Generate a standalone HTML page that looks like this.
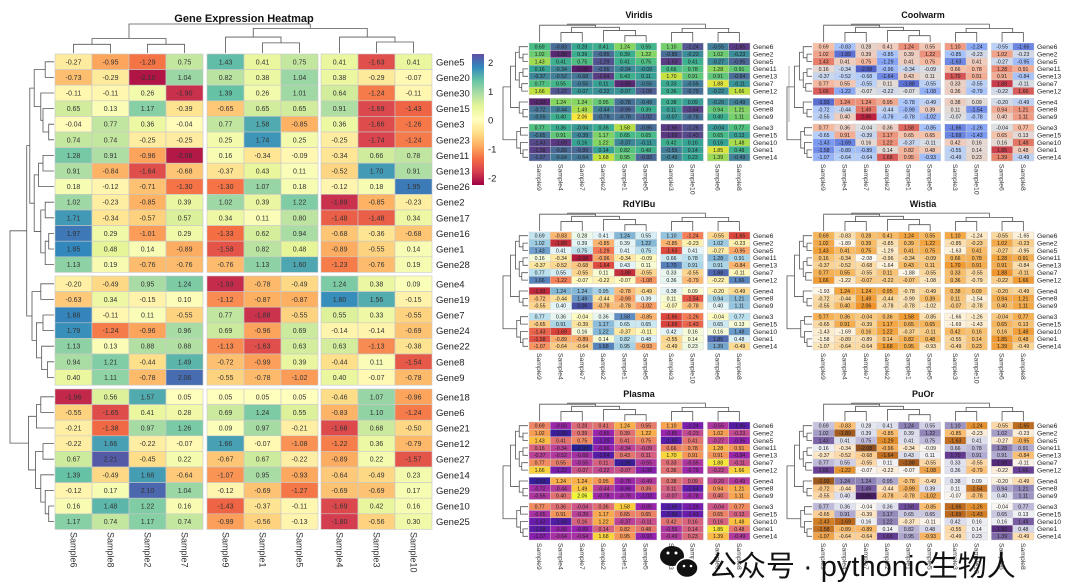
<!DOCTYPE html>
<html><head><meta charset="utf-8">
<style>
html,body{margin:0;padding:0;background:#fff;}
svg{display:block;font-family:"Liberation Sans","Noto Sans CJK SC",sans-serif;}
</style></head>
<body>
<svg id="chart" width="1080" height="586" viewBox="0 0 1080 586"></svg>
<script>
// ===== Main heatmap data =====
const mainSamples = ["Sample6","Sample8","Sample2","Sample7","Sample9","Sample1","Sample5","Sample4","Sample3","Sample10"];
const mainGenes = ["Gene5","Gene20","Gene30","Gene15","Gene3","Gene23","Gene11","Gene13","Gene26","Gene2","Gene17","Gene16","Gene1","Gene28","Gene4","Gene19","Gene7","Gene24","Gene22","Gene8","Gene9","Gene18","Gene6","Gene21","Gene12","Gene27","Gene14","Gene29","Gene10","Gene25"];
const mainValues = [
[-0.27,-0.95,-1.29,0.75,1.43,0.41,0.75,0.41,-1.63,0.41],
[-0.73,-0.29,-2.10,1.04,0.82,0.38,1.04,0.38,-0.29,-0.07],
[-0.11,-0.11,0.26,-1.90,1.39,0.26,1.01,0.64,-1.24,-0.11],
[0.65,0.13,1.17,-0.39,-0.65,0.65,0.65,0.91,-1.69,-1.43],
[-0.04,0.77,0.36,-0.04,0.77,1.58,-0.85,0.36,-1.66,-1.26],
[0.74,0.74,-0.25,-0.25,0.25,1.74,0.25,-0.25,-1.74,-1.24],
[1.28,0.91,-0.96,-2.08,0.16,-0.34,-0.09,-0.34,0.66,0.78],
[0.91,-0.84,-1.64,-0.68,-0.37,0.43,0.11,-0.52,1.70,0.91],
[0.18,-0.12,-0.71,-1.30,-1.30,1.07,0.18,-0.12,0.18,1.95],
[1.02,-0.23,-0.85,0.39,1.02,0.39,1.22,-1.89,-0.85,-0.23],
[1.71,-0.34,-0.57,0.57,0.34,0.11,0.80,-1.48,-1.48,0.34],
[1.97,0.29,-1.01,0.29,-1.33,0.62,0.94,-0.68,-0.36,-0.68],
[1.85,0.48,0.14,-0.89,-1.58,0.82,0.48,-0.89,-0.55,0.14],
[1.13,0.19,-0.76,-0.76,-0.76,1.13,1.60,-1.23,-0.76,0.19],
[-0.20,-0.49,0.95,1.24,-1.93,-0.78,-0.49,1.24,0.38,0.09],
[-0.63,0.34,-0.15,0.10,-1.12,-0.87,-0.87,1.80,1.56,-0.15],
[1.88,-0.11,0.11,-0.55,0.77,-1.88,-0.55,0.55,0.33,-0.55],
[1.79,-1.24,-0.96,0.96,0.69,-0.96,0.69,-0.14,-0.14,-0.69],
[1.13,0.13,0.88,0.88,-1.13,-1.63,0.63,0.63,-1.13,-0.38],
[0.94,1.21,-0.44,1.49,-0.72,-0.99,0.39,-0.44,0.11,-1.54],
[0.40,1.11,-0.78,2.06,-0.55,-0.78,-1.02,0.40,-0.07,-0.78],
[-1.96,0.56,1.57,0.05,0.05,0.05,0.05,-0.46,1.07,-0.96],
[-0.55,-1.65,0.41,0.28,0.69,1.24,0.55,-0.83,1.10,-1.24],
[-0.21,-1.38,0.97,1.26,0.09,0.97,-0.21,-1.68,0.68,-0.50],
[-0.22,1.66,-0.22,-0.07,1.66,-0.07,-1.08,-1.22,0.36,-0.79],
[0.67,2.21,-0.45,0.22,-0.67,0.67,-0.22,-0.89,0.22,-1.57],
[1.39,-0.49,1.68,-0.64,-1.07,0.95,-0.93,-0.64,-0.49,0.23],
[-0.12,0.17,2.10,1.04,-0.12,-0.69,-1.27,-0.69,-0.69,0.17],
[0.16,1.48,1.22,0.16,-1.43,-0.37,-0.11,-1.69,0.42,0.16],
[1.17,0.74,1.17,0.74,-0.99,-0.56,-0.13,-1.80,-0.56,0.30]
];
const colorbarTicks = [2,1,0,-1,-2];

// ===== Small heatmaps data =====
const smallSamples = ["Sample9","Sample4","Sample7","Sample2","Sample1","Sample5","Sample3","Sample10","Sample6","Sample8"];
const smallGenes = ["Gene6","Gene2","Gene5","Gene11","Gene13","Gene7","Gene12","Gene4","Gene8","Gene9","Gene3","Gene15","Gene10","Gene1","Gene14"];
const smallValues = [
[0.69,-0.83,0.28,0.41,1.24,0.55,1.10,-1.24,-0.55,-1.65],
[1.02,-1.89,0.39,-0.85,0.39,1.22,-0.85,-0.23,1.02,-0.23],
[1.43,0.41,0.75,-1.29,0.41,0.75,-1.63,0.41,-0.27,-0.95],
[0.16,-0.34,-2.08,-0.96,-0.34,-0.09,0.66,0.78,1.28,0.91],
[-0.37,-0.52,-0.68,-1.64,0.43,0.11,1.70,0.91,0.91,-0.84],
[0.77,0.55,-0.55,0.11,-1.88,-0.55,0.33,-0.55,1.88,-0.11],
[1.66,-1.22,-0.07,-0.22,-0.07,-1.08,0.36,-0.79,-0.22,1.66],
[-1.93,1.24,1.24,0.95,-0.78,-0.49,0.38,0.09,-0.20,-0.49],
[-0.72,-0.44,1.49,-0.44,-0.99,0.39,0.11,-1.54,0.94,1.21],
[-0.55,0.40,2.06,-0.78,-0.78,-1.02,-0.07,-0.78,0.40,1.11],
[0.77,0.36,-0.04,0.36,1.58,-0.85,-1.66,-1.26,-0.04,0.77],
[-0.65,0.91,-0.39,1.17,0.65,0.65,-1.69,-1.43,0.65,0.13],
[-1.43,-1.69,0.16,1.22,-0.37,-0.11,0.42,0.16,0.16,1.48],
[-1.58,-0.89,-0.89,0.14,0.82,0.48,-0.55,0.14,1.85,0.48],
[-1.07,-0.64,-0.64,1.68,0.95,-0.93,-0.49,0.23,1.39,-0.49]
];
const panelTitles = ["Viridis","Coolwarm","RdYlBu","Wistia","Plasma","PuOr"];

// ===== Colormaps =====
const cmaps = {
 Spectral:["#9e0142","#d53e4f","#f46d43","#fdae61","#fee08b","#ffffbf","#e6f598","#abdda4","#66c2a5","#3288bd","#5e4fa2"],
 Viridis:["#440154","#482878","#3e4989","#31688e","#26828e","#1f9e89","#35b779","#6ece58","#b5de2b","#fde725"],
 Coolwarm:["#3b4cc0","#6f92f3","#aac7fd","#dddcdc","#f7b89c","#e7745b","#b40426"],
 RdYlBu:["#a50026","#d73027","#f46d43","#fdae61","#fee090","#ffffbf","#e0f3f8","#abd9e9","#74add1","#4575b4","#313695"],
 Wistia:["#fffaf0","#fde7bf","#fbd08a","#f7b455","#f29a2a","#ee8610"],
 Plasma:["#0d0887","#5302a3","#8b0aa5","#b83289","#db5c68","#f48849","#febd2a","#f0f921"],
 PuOr:["#7f3b08","#b35806","#e08214","#fdb863","#fee0b6","#f7f7f7","#d8daeb","#b2abd2","#8073ac","#542788","#2d004b"]
};
function hex2rgb(h){return [parseInt(h.slice(1,3),16),parseInt(h.slice(3,5),16),parseInt(h.slice(5,7),16)];}
function cmap(name,v,lo,hi){
 const st=cmaps[name];let t=(v-lo)/(hi-lo);t=Math.max(0,Math.min(1,t));
 const f=t*(st.length-1);const i=Math.min(st.length-2,Math.floor(f));const r=f-i;
 const a=hex2rgb(st[i]),b=hex2rgb(st[i+1]);
 return "rgb("+a.map((x,k)=>Math.round(x+(b[k]-x)*r)).join(",")+")";
}

const NS="http://www.w3.org/2000/svg";
const svg=document.getElementById("chart");
function mk(tag,attrs,parent){const e=document.createElementNS(NS,tag);for(const k in attrs)e.setAttribute(k,attrs[k]);(parent||svg).appendChild(e);return e;}

// dendrogram
function dendro(node,posFn,base,span,vertical,g){
 if(typeof node==="number")return {p:posFn(node),h:0};
 const a=dendro(node[0],posFn,base,span,vertical,g),b=dendro(node[1],posFn,base,span,vertical,g);
 const h=node[2];
 const c=v=>base-v*span;
 let d;
 if(vertical){d="M"+a.p+" "+c(a.h)+"V"+c(h)+"H"+b.p+"V"+c(b.h);}
 else{d="M"+c(a.h)+" "+a.p+"H"+c(h)+"V"+b.p+"H"+c(b.h);}
 const p=mk("path",{d:d,fill:"none",stroke:"#555","stroke-width":0.8},g);
 
 
 return {p:(a.p+b.p)/2,h:h};
}

// ===== Main heatmap =====
const mainG=mk("g",{});


const mColStarts=[55,207,321],mColW=37,mRowStarts=[54,276,389],mRowH=15.6;
function mX(i){return i<4?mColStarts[0]+i*mColW:(i<7?mColStarts[1]+(i-4)*mColW:mColStarts[2]+(i-7)*mColW);}
function mY(j){return j<14?mRowStarts[0]+j*mRowH:(j<21?mRowStarts[1]+(j-14)*mRowH:mRowStarts[2]+(j-21)*mRowH);}
const lo=-2.25,hi=2.3;
mainValues.forEach((row,j)=>{row.forEach((v,i)=>{
 const r=mk("rect",{x:mX(i),y:mY(j),width:mColW,height:mRowH,fill:cmap("Spectral",v,lo,hi),stroke:"#c8c8c8","stroke-width":0.6},mainG);
 
 
 const t=mk("text",{x:mX(i)+mColW/2,y:mY(j)+mRowH/2+2.5,"text-anchor":"middle","font-size":7,fill:"#333"},mainG);
 t.textContent=v.toFixed(2);
 
 
});});
mainGenes.forEach((g,j)=>{
 const t=mk("text",{x:436,y:mY(j)+mRowH/2+3.5,"font-size":9.5,fill:"#222"},mainG);
 t.textContent=g;
 
 
});
mainSamples.forEach((s,i)=>{
 const x=mX(i)+mColW/2-3;
 const t=mk("text",{x:x,y:532,"font-size":9,fill:"#333",transform:"rotate(90 "+x+" 532)"},mainG);
 t.textContent=s;
 
 
});
const mt=mk("text",{x:244,y:22,"text-anchor":"middle","font-size":11,"font-weight":"bold",fill:"#111"},mainG);
mt.textContent="Gene Expression Heatmap";


const mainColTree=[[[0,1,0.3],[2,3,0.3],0.5],[[4,[5,6,0.35],0.55],[7,[8,9,0.38],0.55],0.85],1];
const mainRowTree=[[[[[0,1,0.2],[2,[3,[4,5,0.12],0.25],0.3],0.45],[[[6,7,0.25],8,0.35],[[9,10,0.2],[[11,12,0.12],13,0.2],0.3],0.45],0.55],[[14,15,0.3],[[16,17,0.25],[18,[19,20,0.15],0.28],0.4],0.5],0.62],[[[21,22,0.3],23,0.4],[[24,25,0.25],[26,[27,[28,29,0.12],0.2],0.3],0.42],0.58],1];
dendro(mainColTree,i=>mX(i)+mColW/2,53,29,true,mainG);
dendro(mainRowTree,j=>mY(j)+mRowH/2,54,44,false,mainG);
// colorbar
const defs=mk("defs",{});
const lg=mk("linearGradient",{id:"cbgrad",x1:0,y1:1,x2:0,y2:0},defs);
cmaps.Spectral.forEach((c,k)=>mk("stop",{offset:(k/(cmaps.Spectral.length-1)),"stop-color":c},lg));
const cbTop=54,cbBot=185;
const cb=mk("rect",{x:472,y:cbTop,width:12,height:cbBot-cbTop,fill:"url(#cbgrad)"},mainG);


colorbarTicks.forEach(v=>{
 const y=cbBot-(v-lo)/(hi-lo)*(cbBot-cbTop);
 const t=mk("text",{x:488,y:y+3.5,"font-size":9.5,fill:"#222"},mainG);
 t.textContent=v;
 
 
});

// ===== Small heatmaps =====
const panelPos=[[529,43],[813,43],[529,232],[813,232],[529,422],[813,422]];
const sColW=21.3,sRowH=7.4;
const smallColTree=[[0,[[1,2,0.45],[3,[4,5,0.3],0.55],0.7],0.8],[[6,7,0.45],[8,9,0.45],0.65],0.85];
const smallRowTree=[[[[0,[1,2,0.2],0.35],[[3,4,0.2],[5,6,0.25],0.35],0.5],[7,[8,9,0.2],0.35],0.7],[[10,11,0.3],[12,[13,14,0.2],0.3],0.45],1];
panelTitles.forEach((name,p)=>{
 const [gx,gy]=panelPos[p];
 const g=mk("g",{});
 
 
 const sX=i=>i<6?gx+i*sColW:(i<8?gx+131.8+(i-6)*sColW:gx+178.4+(i-8)*sColW);
 const sY=j=>j<7?gy+j*sRowH:(j<10?gy+55.3+(j-7)*sRowH:gy+81+(j-10)*sRowH);
 smallValues.forEach((row,j)=>{row.forEach((v,i)=>{
  const r=mk("rect",{x:sX(i),y:sY(j),width:sColW,height:sRowH,fill:cmap(name,v,-2.1,2.1),"fill-opacity":0.9,stroke:"#d0d0d0","stroke-width":0.4},g);
  
  
  const t=mk("text",{x:sX(i)+sColW/2,y:sY(j)+sRowH/2+1.9,"text-anchor":"middle","font-size":5.2,fill:"#222"},g);
  t.textContent=v.toFixed(2);
  
  
 });});
 smallGenes.forEach((gn,j)=>{
  const t=mk("text",{x:gx+224,y:sY(j)+sRowH/2+2.3,"font-size":6.8,fill:"#222"},g);
  t.textContent=gn;
  
  
 });
 smallSamples.forEach((s,i)=>{
  const x=sX(i)+sColW/2-2.5;const y=gy+121;
  const t=mk("text",{x:x,y:y,"font-size":6.8,fill:"#333",transform:"rotate(90 "+x+" "+y+")"},g);
  t.textContent=s;
  
  
 });
 const tt=mk("text",{x:gx+110,y:gy-25,"text-anchor":"middle","font-size":9,"font-weight":"bold",fill:"#111"},g);
 tt.textContent=name;
 
 
 dendro(smallColTree,i=>sX(i)+sColW/2,gy-1,21,true,g);
 dendro(smallRowTree,j=>sY(j)+sRowH/2,gx-1,25,false,g);
});
// faint colorbar edge line next to Viridis
const fl=mk("line",{x1:789,y1:66,x2:789,y2:122,stroke:"#999","stroke-width":0.8});



// ===== Watermark =====
const wm=mk("g",{});


mk("ellipse",{cx:672,cy:556,rx:12,ry:10,fill:"#111"},wm);
mk("ellipse",{cx:687,cy:568,rx:11,ry:9.5,fill:"#111",stroke:"#fff","stroke-width":1.5},wm);
mk("circle",{cx:668,cy:553,r:1.5,fill:"#fff"},wm);
mk("circle",{cx:676,cy:553,r:1.5,fill:"#fff"},wm);
mk("circle",{cx:684,cy:566,r:1.3,fill:"#fff"},wm);
mk("circle",{cx:691,cy:566,r:1.3,fill:"#fff"},wm);
const wt=mk("text",{x:708,y:576,"font-size":29,fill:"#111"},wm);
wt.textContent="公众号 · pythonic生物人";


</script>
</body></html>
